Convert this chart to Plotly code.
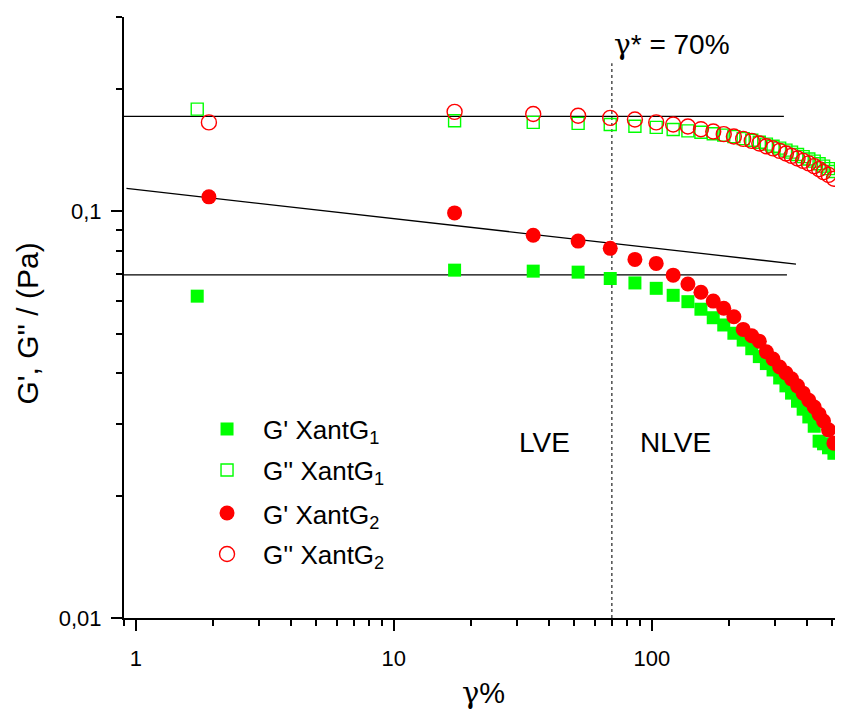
import plotly.graph_objects as go

# ---------------- data ----------------
x_g1 = [1.73, 17.2, 34.7, 51.8, 69, 86, 104, 121, 138, 155, 173, 190, 208, 226, 244,
        261, 278, 295, 313, 331, 348, 367, 386, 406, 426, 445, 463, 484, 508]
x_g2 = [1.92, 17.2, 34.7, 51.8, 69, 86, 104, 121, 138, 155, 173, 190, 208, 226, 244,
        261, 278, 295, 313, 331, 348, 367, 386, 406, 426, 445, 463, 484, 508]

gp_g1 = [0.0618, 0.0716, 0.0712, 0.0708, 0.0683, 0.0666, 0.0646, 0.0621, 0.0599, 0.0574,
         0.0547, 0.0525, 0.0501, 0.0482, 0.0459, 0.0439, 0.0422, 0.0407, 0.0389, 0.0372,
         0.0357, 0.0341, 0.0326, 0.0312, 0.0296, 0.0272, 0.0268, 0.0262, 0.0254]
gpp_g1 = [0.1781, 0.1667, 0.1652, 0.1643, 0.1633, 0.1617, 0.1606, 0.1587, 0.1575, 0.1563,
          0.1550, 0.1537, 0.1524, 0.1507, 0.1494, 0.1477, 0.1461, 0.1444, 0.1428, 0.1412,
          0.1396, 0.1378, 0.1361, 0.1343, 0.1327, 0.1308, 0.1290, 0.1272, 0.1251]
gp_g2 = [0.1084, 0.0990, 0.0872, 0.0844, 0.0810, 0.0761, 0.0744, 0.0696, 0.0662, 0.0632,
         0.0601, 0.0577, 0.0550, 0.0512, 0.0494, 0.0479, 0.0451, 0.0433, 0.0414, 0.0400,
         0.0387, 0.0372, 0.0357, 0.0343, 0.0330, 0.0317, 0.0305, 0.0290, 0.0269]
gpp_g2 = [0.1652, 0.1754, 0.1733, 0.1715, 0.1695, 0.1680, 0.1652, 0.1633, 0.1614, 0.1590,
          0.1569, 0.1546, 0.1526, 0.1505, 0.1488, 0.1466, 0.1444, 0.1426, 0.1406, 0.1386,
          0.1367, 0.1347, 0.1329, 0.1310, 0.1290, 0.1268, 0.1247, 0.1228, 0.1201]

# fitted reference lines
fit_top_x = [0.88, 325]
fit_top_y = [0.171, 0.171]
fit_slope_x = [0.92, 362]
fit_slope_y = [0.1137, 0.0741]
fit_low_x = [0.9, 334]
fit_low_y = [0.0697, 0.0697]
gamma_star_x = [70, 70]
gamma_star_y = [0.01, 0.231]

series_names = ["G' XantG<sub>1</sub>", "G'' XantG<sub>1</sub>",
                "G' XantG<sub>2</sub>", "G'' XantG<sub>2</sub>"]

x_tickvals = [1, 10, 100]
x_ticktext = ["1", "10", "100"]
x_minor = [0.9, 2, 3, 4, 5, 6, 7, 8, 9, 20, 30, 40, 50, 60, 70, 80, 90, 200, 300, 400, 500]
y_tickvals = [0.01, 0.1]
y_ticktext = ["0,01", "0,1"]
y_minor = [0.02, 0.03, 0.04, 0.05, 0.06, 0.07, 0.08, 0.09, 0.2, 0.3]

# ---------------- styles ----------------
GREEN = "#00FF00"
RED = "#FF0000"
FONT = "Liberation Sans, Arial, sans-serif"
GAMMA = "<span style='font-family:DejaVu Serif'>γ</span>"

styles = [
    dict(symbol="square", size=13, color=GREEN, line=dict(width=0)),
    dict(symbol="square-open", size=12, color=GREEN, line=dict(width=1.4, color=GREEN)),
    dict(symbol="circle", size=15, color=RED, line=dict(width=0)),
    dict(symbol="circle-open", size=15, color=RED, line=dict(width=1.4, color=RED)),
]

fig = go.Figure()

line_style = dict(color="black", width=1.3)
fig.add_trace(go.Scatter(x=fit_top_x, y=fit_top_y, mode="lines", line=line_style,
                         showlegend=False, cliponaxis=False))
fig.add_trace(go.Scatter(x=fit_slope_x, y=fit_slope_y, mode="lines", line=line_style, showlegend=False))
fig.add_trace(go.Scatter(x=fit_low_x, y=fit_low_y, mode="lines", line=line_style, showlegend=False))
fig.add_trace(go.Scatter(x=gamma_star_x, y=gamma_star_y, mode="lines",
                         line=dict(color="#333333", width=1.3, dash="dot"), showlegend=False))

data = [(x_g1, gp_g1), (x_g1, gpp_g1), (x_g2, gp_g2), (x_g2, gpp_g2)]
for (xs, ys), st, nm in zip(data, styles, series_names):
    fig.add_trace(go.Scatter(x=xs, y=ys, mode="markers", marker=st, name=nm, showlegend=False))

# manual legend on an overlay axis in paper-like units
leg_x = 0.1433
leg_rows = [0.3145, 0.2463, 0.1747, 0.1065]
for st, yy in zip(styles, leg_rows):
    fig.add_trace(go.Scatter(x=[leg_x], y=[yy], mode="markers", marker=st,
                             xaxis="x2", yaxis="y2", showlegend=False, hoverinfo="skip"))

annotations = []
for nm, yy in zip(series_names, leg_rows):
    annotations.append(dict(text=nm, x=0.1905, y=yy, xref="paper", yref="paper",
                            xanchor="left", yanchor="middle", yshift=-3, showarrow=False,
                            font=dict(size=26, family=FONT, color="black")))

annotations += [
    dict(text="LVE", x=0.5855, y=0.2912, xref="paper", yref="paper", showarrow=False,
         xanchor="center", yanchor="middle", font=dict(size=28, family=FONT, color="black")),
    dict(text="NLVE", x=0.7673, y=0.2912, xref="paper", yref="paper", showarrow=False,
         xanchor="center", yanchor="middle", font=dict(size=28, family=FONT, color="black")),
    dict(text=GAMMA + "* = 70%", x=0.6787, y=0.955, xref="paper", yref="paper", showarrow=False,
         xanchor="left", yanchor="middle", font=dict(size=28, family=FONT, color="black")),
    dict(text=GAMMA + "%", x=0.5, y=0, xref="paper", yref="paper", showarrow=False,
         xanchor="center", yanchor="middle", yshift=-75,
         font=dict(size=29, family=FONT, color="black")),
    dict(text="G', G'' / (Pa)", x=0, y=0.49, xref="paper", yref="paper", showarrow=False,
         xanchor="center", yanchor="middle", xshift=-96, textangle=-90,
         font=dict(size=30, family=FONT, color="black")),
]

axis_common = dict(
    type="log", showline=True, linecolor="black", linewidth=2, mirror=False,
    ticks="outside", ticklen=11, tickwidth=2, tickcolor="black",
    showgrid=False, zeroline=False,
    tickfont=dict(size=22, family=FONT, color="black"),
)

# the page body adds an 8 px offset, so the figure is 835x701 and margins are shifted
fig.update_layout(
    width=835, height=701, autosize=False,
    margin=dict(l=116, r=0, t=9, b=91),
    paper_bgcolor="white", plot_bgcolor="white",
    xaxis=dict(range=[-0.0458, 2.741], tickvals=x_tickvals, ticktext=x_ticktext,
               minor=dict(tickvals=x_minor, ticklen=6, tickwidth=2, tickcolor="black",
                          ticks="outside", showgrid=False),
               ticklabelstandoff=9, automargin=False, **axis_common),
    yaxis=dict(range=[-2, -0.5229], tickvals=y_tickvals, ticktext=y_ticktext,
               minor=dict(tickvals=y_minor, ticklen=6, tickwidth=2, tickcolor="black",
                          ticks="outside", showgrid=False),
               ticklabelstandoff=5, automargin=False, **axis_common),
    xaxis2=dict(range=[0, 1], overlaying="x", visible=False, fixedrange=True),
    yaxis2=dict(range=[0, 1], overlaying="y", visible=False, fixedrange=True),
    annotations=annotations,
    showlegend=False,
)

fig.write_html("out.html")
